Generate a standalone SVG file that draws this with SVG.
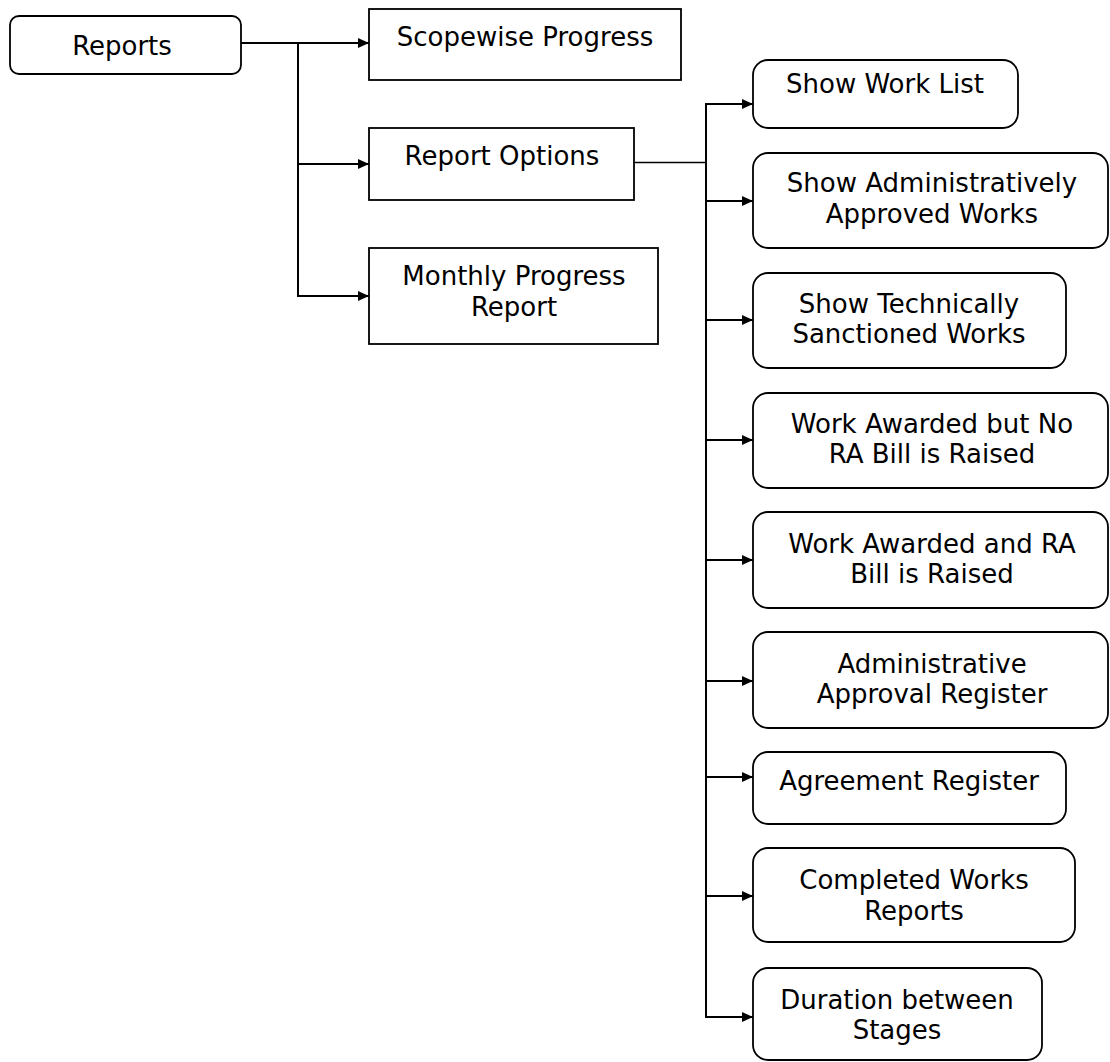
<svg xmlns="http://www.w3.org/2000/svg" width="1110" height="1062" viewBox="0 0 1110 1062">
  <style>
    .box { fill: #ffffff; stroke: #000000; stroke-width: 1.8; }
    .lbl { font-family: "DejaVu Sans", Verdana, sans-serif; font-size: 26px; fill: #000000; text-anchor: middle; }
    .wire { fill: none; stroke: #000000; stroke-width: 2; }
    .thin { fill: none; stroke: #000000; stroke-width: 1.4; }
  </style>
  <defs>
    <marker id="arrow" viewBox="0 0 11 10" refX="11" refY="5" markerWidth="11" markerHeight="10" markerUnits="userSpaceOnUse" orient="auto">
      <path d="M0,0 L11,5 L0,10 Z" fill="#000000"/>
    </marker>
  </defs>
  <rect width="1110" height="1062" fill="#ffffff"/>

  <!-- connectors -->
  <g id="connectors">
    <line class="wire" x1="241" y1="43" x2="369" y2="43" marker-end="url(#arrow)"/>
    <line class="wire" x1="298" y1="43" x2="298" y2="296"/>
    <line class="wire" x1="298" y1="164" x2="369" y2="164" marker-end="url(#arrow)"/>
    <line class="wire" x1="297" y1="296" x2="369" y2="296" marker-end="url(#arrow)"/>

    <line class="thin" x1="634" y1="162.5" x2="706" y2="162.5"/>
    <line class="wire" x1="706" y1="104" x2="706" y2="1018"/>
    <line class="wire" x1="705" y1="104" x2="753" y2="104" marker-end="url(#arrow)"/>
    <line class="wire" x1="706" y1="201" x2="753" y2="201" marker-end="url(#arrow)"/>
    <line class="wire" x1="706" y1="320" x2="753" y2="320" marker-end="url(#arrow)"/>
    <line class="wire" x1="706" y1="440" x2="753" y2="440" marker-end="url(#arrow)"/>
    <line class="wire" x1="706" y1="560" x2="753" y2="560" marker-end="url(#arrow)"/>
    <line class="wire" x1="706" y1="681" x2="753" y2="681" marker-end="url(#arrow)"/>
    <line class="wire" x1="706" y1="777" x2="753" y2="777" marker-end="url(#arrow)"/>
    <line class="wire" x1="706" y1="896" x2="753" y2="896" marker-end="url(#arrow)"/>
    <line class="wire" x1="705" y1="1017" x2="753" y2="1017" marker-end="url(#arrow)"/>
  </g>

  <!-- root -->
  <g id="reports">
    <rect class="box" x="10" y="16" width="231" height="58" rx="9"/>
    <text class="lbl" x="122" y="55">Reports</text>
  </g>

  <!-- first level -->
  <g id="scopewise-progress">
    <rect class="box" x="369" y="9" width="312" height="71"/>
    <text class="lbl" x="525" y="46">Scopewise Progress</text>
  </g>
  <g id="report-options">
    <rect class="box" x="369" y="128" width="265" height="72"/>
    <text class="lbl" x="502" y="165">Report Options</text>
  </g>
  <g id="monthly-progress-report">
    <rect class="box" x="369" y="248" width="289" height="96"/>
    <text class="lbl" x="514" y="285">Monthly Progress</text>
    <text class="lbl" x="514" y="316">Report</text>
  </g>

  <!-- report options -->
  <g id="show-work-list">
    <rect class="box" x="753" y="60" width="265" height="68" rx="15"/>
    <text class="lbl" x="885" y="93">Show Work List</text>
  </g>
  <g id="show-admin-approved">
    <rect class="box" x="753" y="153" width="355" height="95" rx="15"/>
    <text class="lbl" x="932" y="192">Show Administratively</text>
    <text class="lbl" x="932" y="223">Approved Works</text>
  </g>
  <g id="show-tech-sanctioned">
    <rect class="box" x="753" y="273" width="313" height="95" rx="15"/>
    <text class="lbl" x="909" y="313">Show Technically</text>
    <text class="lbl" x="909" y="343">Sanctioned Works</text>
  </g>
  <g id="awarded-no-bill">
    <rect class="box" x="753" y="393" width="355" height="95" rx="15"/>
    <text class="lbl" x="932" y="433">Work Awarded but No</text>
    <text class="lbl" x="932" y="463">RA Bill is Raised</text>
  </g>
  <g id="awarded-bill-raised">
    <rect class="box" x="753" y="512" width="355" height="96" rx="15"/>
    <text class="lbl" x="932" y="553">Work Awarded and RA</text>
    <text class="lbl" x="932" y="583">Bill is Raised</text>
  </g>
  <g id="admin-approval-register">
    <rect class="box" x="753" y="632" width="355" height="96" rx="15"/>
    <text class="lbl" x="932" y="673">Administrative</text>
    <text class="lbl" x="932" y="703">Approval Register</text>
  </g>
  <g id="agreement-register">
    <rect class="box" x="753" y="752" width="313" height="72" rx="15"/>
    <text class="lbl" x="909" y="790">Agreement Register</text>
  </g>
  <g id="completed-works-reports">
    <rect class="box" x="753" y="848" width="322" height="94" rx="15"/>
    <text class="lbl" x="914" y="889">Completed Works</text>
    <text class="lbl" x="914" y="920">Reports</text>
  </g>
  <g id="duration-between-stages">
    <rect class="box" x="753" y="968" width="289" height="92" rx="15"/>
    <text class="lbl" x="897" y="1009">Duration between</text>
    <text class="lbl" x="897" y="1039">Stages</text>
  </g>
</svg>
